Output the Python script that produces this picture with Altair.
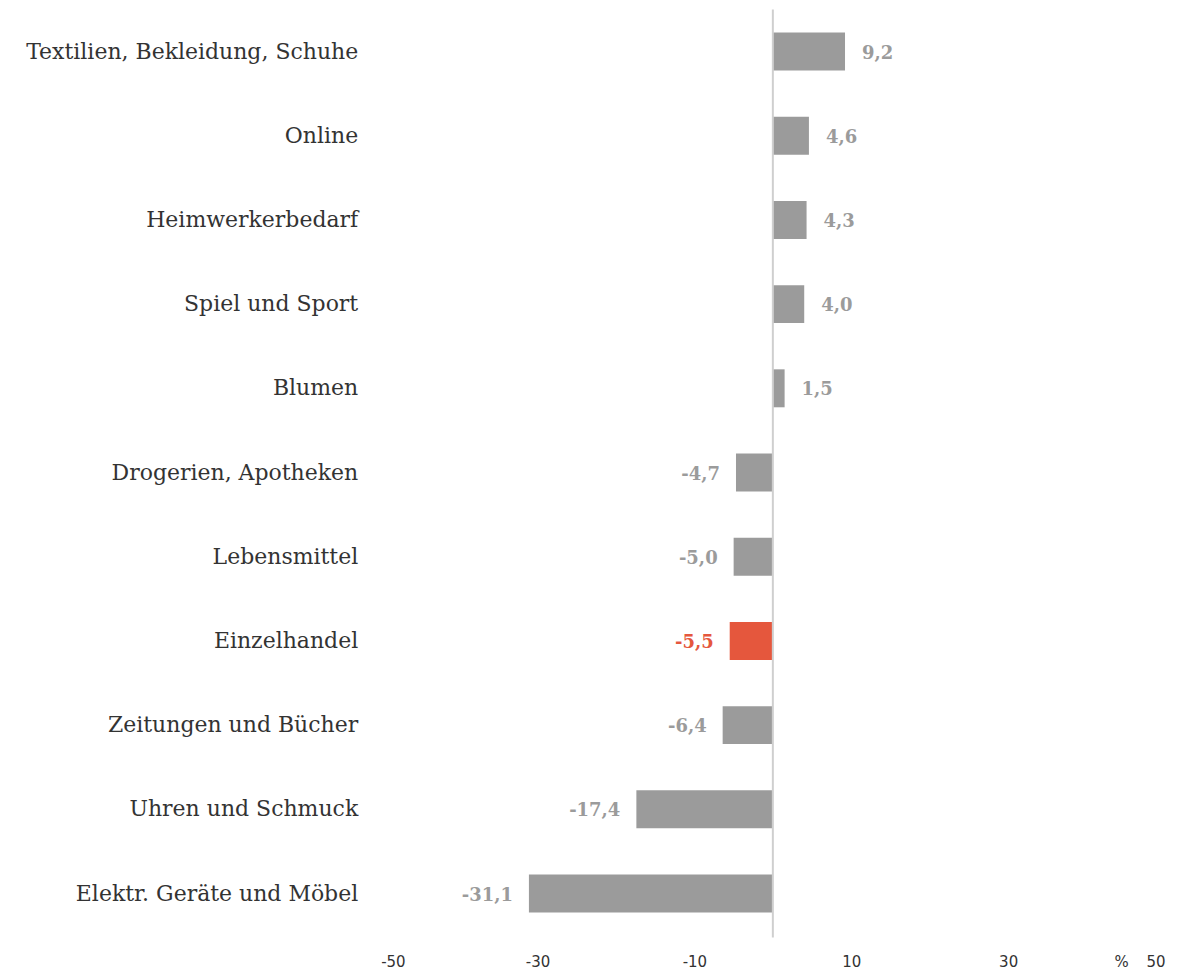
import altair as alt
import pandas as pd

categories = [
    "Textilien, Bekleidung, Schuhe",
    "Online",
    "Heimwerkerbedarf",
    "Spiel und Sport",
    "Blumen",
    "Drogerien, Apotheken",
    "Lebensmittel",
    "Einzelhandel",
    "Zeitungen und Bücher",
    "Uhren und Schmuck",
    "Elektr. Geräte und Möbel",
]
values = [9.2, 4.6, 4.3, 4.0, 1.5, -4.7, -5.0, -5.5, -6.4, -17.4, -31.1]
highlight = ["Einzelhandel"]
x_ticks = [-50, -30, -10, 10, 30, 50]

df = pd.DataFrame({
    "cat": categories,
    "val": values,
    "label": [f"{v:.1f}".replace(".", ",") for v in values],
    "hl": ["ja" if c in highlight else "nein" for c in categories],
})

GRAY = "#9b9b9b"
RED = "#e5573d"
LABEL_GRAY = "#a3a3a3"
SERIF = "DejaVu Serif"

xscale = alt.Scale(domain=[-50, 50], nice=False, zero=False)
yenc = alt.Y("cat:N", sort=categories, title=None,
             axis=alt.Axis(domain=False, ticks=False, grid=False, labelPadding=23,
                           labelFont=SERIF, labelFontSize=22, labelColor="#333333",
                           labelLimit=400))
color = alt.Color("hl:N", scale=alt.Scale(domain=["ja", "nein"], range=[RED, GRAY]), legend=None)
tcolor = alt.Color("hl:N", scale=alt.Scale(domain=["ja", "nein"], range=[RED, LABEL_GRAY]), legend=None)

base = alt.Chart(df)

bars = base.mark_bar(size=38).encode(
    x=alt.X("val:Q", scale=xscale, title="%",
            axis=alt.Axis(values=x_ticks, domain=False, ticks=False, grid=False,
                          labelExpr="datum.value < 0 ? '-' + abs(datum.value) : '' + datum.value",
                          labelPadding=19, labelFontSize=15, labelColor="#333333",
                          labelFont="DejaVu Sans",
                          titleX=741, titleY=31, titleFontSize=15, titleFontWeight="normal",
                          titleColor="#333333", titleFont="DejaVu Sans", titleAlign="center",
                          titleBaseline="alphabetic")),
    x2=alt.datum(0),
    y=yenc,
    color=color,
)

pos = base.transform_filter("datum.val >= 0").mark_text(
    align="left", baseline="middle", dx=17, dy=2, font=SERIF, fontSize=18, fontWeight="bold"
).encode(x=alt.X("val:Q", scale=xscale), y=alt.Y("cat:N", sort=categories), text="label:N", color=tcolor)

neg = base.transform_filter("datum.val < 0").mark_text(
    align="right", baseline="middle", dx=-16, dy=2, font=SERIF, fontSize=18, fontWeight="bold"
).encode(x=alt.X("val:Q", scale=xscale), y=alt.Y("cat:N", sort=categories), text="label:N", color=tcolor)

zero = alt.Chart(pd.DataFrame({"z": [0]})).mark_rule(color="#cfcfcf", strokeWidth=2).encode(
    x=alt.X("z:Q", scale=xscale), y=alt.value(0), y2=alt.value(929)
)

chart = alt.layer(bars, zero, pos, neg).properties(
    width=785, height=927,
    autosize=alt.AutoSizeParams(type="none"),
    padding={"left": 373, "top": 1, "right": 20, "bottom": 34},
).configure_view(stroke=None)

chart.save("out.html", embed_options={"renderer": "svg", "actions": False})
